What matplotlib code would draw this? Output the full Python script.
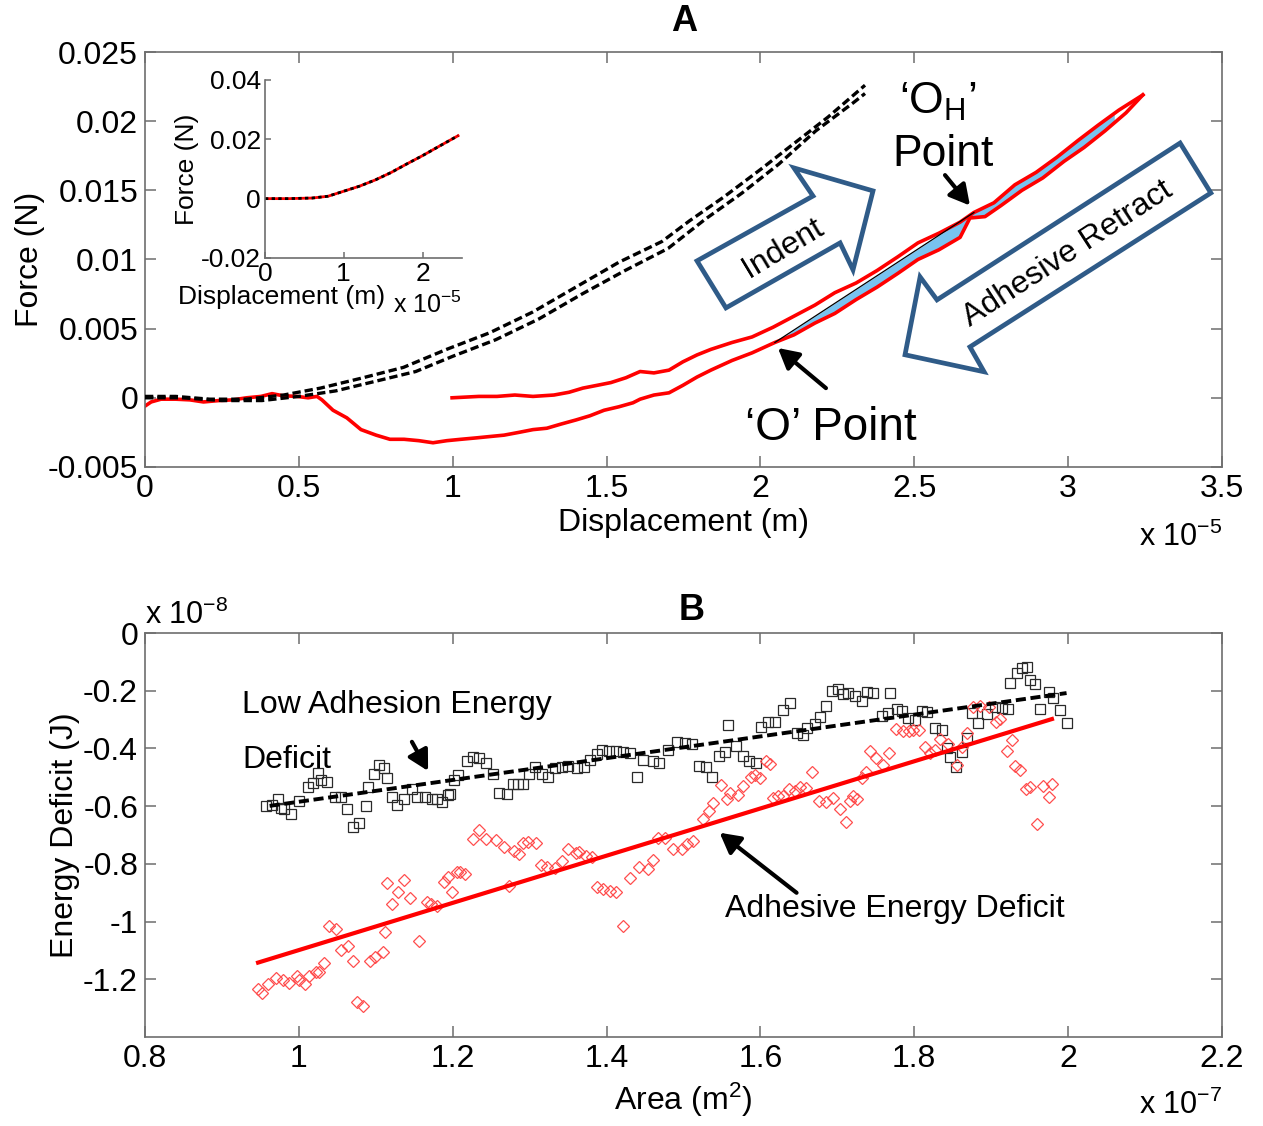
import matplotlib
matplotlib.use("Agg")
import matplotlib.pyplot as plt
import numpy as np
from matplotlib.patches import Polygon

plt.rcParams['font.family'] = ['Liberation Sans', 'DejaVu Sans']
plt.rcParams['mathtext.fontset'] = 'custom'
plt.rcParams['mathtext.rm'] = 'Liberation Sans'
plt.rcParams['mathtext.default'] = 'regular'

# ---- panel A data (displacement in 1e-5 m, force in N) ----
blk1_d = [0.00, 0.10, 0.21, 0.33, 0.45, 0.57, 0.70, 0.84, 0.98, 1.12, 1.26, 1.40,
          1.54, 1.68, 1.77, 1.88, 2.00, 2.11, 2.22, 2.34]
blk1_f = [0.0001, 0.0001, -0.0001, -0.0001, 0.0002, 0.0007, 0.0014, 0.0022, 0.0035,
          0.0047, 0.0062, 0.0080, 0.0098, 0.0113, 0.0128, 0.0145, 0.0165, 0.0184,
          0.0203, 0.0226]
blk2_d = [0.00, 0.12, 0.25, 0.38, 0.50, 0.62, 0.75, 0.88, 1.00, 1.14, 1.28, 1.42,
          1.56, 1.70, 1.82, 1.94, 2.06, 2.18, 2.30, 2.34]
blk2_f = [0.0000, 0.0000, -0.0002, -0.0002, 0.0001, 0.0005, 0.0012, 0.0019, 0.0030,
          0.0042, 0.0057, 0.0075, 0.0092, 0.0108, 0.0129, 0.0148, 0.0169, 0.0193,
          0.0213, 0.0220]

# red retract (lower branch)
rr_d = [0.000, 0.020, 0.052, 0.10, 0.146, 0.19, 0.24, 0.286, 0.33, 0.377, 0.413, 0.448,
        0.494, 0.53, 0.559, 0.575, 0.611, 0.656, 0.702, 0.751, 0.796, 0.842, 0.890,
        0.936, 0.981, 1.027, 1.076, 1.121, 1.167, 1.215, 1.261, 1.306, 1.352, 1.401,
        1.446, 1.492, 1.540, 1.586, 1.609, 1.654, 1.703, 1.748, 1.794, 1.839, 1.908,
        1.973, 2.047, 2.109, 2.177, 2.242, 2.311, 2.379, 2.447, 2.512, 2.580, 2.649,
        2.681, 2.73, 2.782, 2.850, 2.918, 2.987, 3.052, 3.120, 3.188, 3.243]
rr_f = [-0.0006, -0.0003, -0.0001, -0.0001, -0.00015, -0.0003, -0.0002, -0.00015, 0.0,
        0.0001, 0.0003, 0.00015, 0.0001, 0.0, 0.0001, -0.00015, -0.0009, -0.00145,
        -0.0023, -0.0027, -0.0030, -0.0030, -0.0031, -0.00325, -0.0031, -0.0030,
        -0.0029, -0.0028, -0.0027, -0.0025, -0.0023, -0.0022, -0.0019, -0.0016,
        -0.0013, -0.0009, -0.00065, -0.00036, -0.0001, 0.0002, 0.00036, 0.0009,
        0.0015, 0.0020, 0.0027, 0.00325, 0.0040, 0.00455, 0.0054, 0.0061, 0.0071,
        0.0080, 0.0090, 0.0100, 0.0107, 0.0116, 0.0130, 0.0131, 0.0139, 0.0150,
        0.0159, 0.0171, 0.0181, 0.0193, 0.0206, 0.0219]

# red indent (upper branch)
ri_d = [0.998, 1.085, 1.144, 1.202, 1.261, 1.329, 1.378, 1.423, 1.469, 1.514, 1.563,
        1.609, 1.654, 1.703, 1.748, 1.794, 1.839, 1.908, 1.973, 2.041, 2.109, 2.177,
        2.242, 2.311, 2.379, 2.447, 2.512, 2.580, 2.649, 2.694, 2.759, 2.827, 2.896,
        2.964, 3.032, 3.097, 3.165, 3.243]
ri_f = [0.0, 0.0001, 0.0001, 0.0002, 0.0001, 0.0002, 0.0004, 0.0007, 0.0009, 0.0011,
        0.00145, 0.0019, 0.0018, 0.0020, 0.0026, 0.0031, 0.0035, 0.0040, 0.0044,
        0.0051, 0.0059, 0.0067, 0.0076, 0.0083, 0.0092, 0.0102, 0.0112, 0.0119,
        0.0127, 0.0134, 0.0141, 0.0154, 0.0163, 0.0174, 0.0186, 0.0197, 0.0208, 0.0219]

o_pt = (2.047, 0.0040)
oh_pt = (2.694, 0.0134)
fill_end = 3.15

# inset
ins_d = [0.0, 0.3, 0.6, 0.8, 1.0, 1.2, 1.4, 1.6, 1.8, 2.0, 2.2, 2.45]
ins_f = [0.0, 0.0, 0.0002, 0.0008, 0.0025, 0.0042, 0.0063, 0.0088, 0.0117, 0.0145,
         0.0175, 0.0212]

# ---- panel B data (area in 1e-7 m^2, energy in 1e-8 J) ----
low_x = [0.957, 0.965, 0.973, 0.977, 0.981, 0.990, 1.000, 1.012, 1.018, 1.025, 1.029,
         1.037, 1.047, 1.055, 1.063, 1.070, 1.078, 1.087, 1.090, 1.098, 1.104, 1.111,
         1.114, 1.121, 1.127, 1.137, 1.147, 1.153, 1.164, 1.173, 1.179, 1.186, 1.194,
         1.207, 1.196, 1.202, 1.218, 1.226, 1.234, 1.243, 1.252, 1.260, 1.270, 1.278,
         1.285, 1.291, 1.299, 1.307, 1.316, 1.324, 1.333, 1.342, 1.350, 1.361, 1.371,
         1.378, 1.387, 1.394, 1.403, 1.412, 1.421, 1.430, 1.439, 1.447, 1.460, 1.468,
         1.480, 1.491, 1.502, 1.511, 1.520, 1.529, 1.537, 1.546, 1.554, 1.558, 1.568,
         1.577, 1.585, 1.594, 1.601, 1.610, 1.619, 1.630, 1.639, 1.647, 1.656, 1.660,
         1.671, 1.678, 1.685, 1.693, 1.701, 1.707, 1.714, 1.723, 1.732, 1.738, 1.747,
         1.758, 1.766, 1.769, 1.777, 1.784, 1.792, 1.801, 1.810, 1.816, 1.827, 1.836,
         1.842, 1.847, 1.854, 1.862, 1.868, 1.875, 1.883, 1.894, 1.905, 1.914, 1.922,
         1.925, 1.933, 1.940, 1.946, 1.950, 1.957, 1.964, 1.975, 1.980, 1.990, 1.998]
low_y = [-0.599, -0.595, -0.574, -0.606, -0.609, -0.626, -0.581, -0.533, -0.519, -0.484,
         -0.509, -0.516, -0.567, -0.567, -0.609, -0.671, -0.657, -0.599, -0.533, -0.488,
         -0.457, -0.467, -0.502, -0.567, -0.595, -0.574, -0.540, -0.567, -0.567, -0.574,
         -0.574, -0.585, -0.561, -0.491, -0.557, -0.509, -0.443, -0.429, -0.433, -0.450,
         -0.488, -0.554, -0.557, -0.522, -0.522, -0.522, -0.488, -0.464, -0.488, -0.498,
         -0.467, -0.464, -0.460, -0.467, -0.464, -0.439, -0.419, -0.405, -0.408, -0.408,
         -0.412, -0.415, -0.498, -0.439, -0.443, -0.450, -0.405, -0.377, -0.381, -0.384,
         -0.460, -0.464, -0.498, -0.426, -0.412, -0.318, -0.391, -0.426, -0.443, -0.450,
         -0.325, -0.308, -0.308, -0.266, -0.242, -0.346, -0.353, -0.329, -0.315, -0.291,
         -0.253, -0.201, -0.194, -0.211, -0.208, -0.218, -0.235, -0.204, -0.208, -0.287,
         -0.277, -0.208, -0.263, -0.270, -0.294, -0.301, -0.270, -0.273, -0.329, -0.336,
         -0.398, -0.429, -0.464, -0.412, -0.363, -0.277, -0.311, -0.280, -0.256, -0.260,
         -0.263, -0.173, -0.138, -0.121, -0.118, -0.163, -0.176, -0.263, -0.204, -0.225,
         -0.266, -0.311]

adh_x = [0.947, 0.952, 0.960, 0.970, 0.979, 0.987, 0.998, 1.000, 1.008, 1.013, 1.022,
         1.026, 1.033, 1.039, 1.048, 1.055, 1.064, 1.070, 1.076, 1.083, 1.092, 1.099,
         1.109, 1.112, 1.114, 1.121, 1.129, 1.137, 1.144, 1.156, 1.166, 1.172, 1.179,
         1.189, 1.194, 1.199, 1.205, 1.209, 1.216, 1.226, 1.234, 1.243, 1.256, 1.267,
         1.273, 1.280, 1.286, 1.291, 1.298, 1.308, 1.315, 1.322, 1.333, 1.342, 1.350,
         1.360, 1.364, 1.373, 1.381, 1.387, 1.395, 1.404, 1.412, 1.421, 1.430, 1.442,
         1.454, 1.460, 1.467, 1.476, 1.487, 1.498, 1.504, 1.513, 1.525, 1.533, 1.539,
         1.549, 1.556, 1.560, 1.571, 1.577, 1.588, 1.593, 1.599, 1.607, 1.612, 1.616,
         1.623, 1.630, 1.637, 1.645, 1.651, 1.659, 1.667, 1.676, 1.685, 1.695, 1.704,
         1.711, 1.716, 1.721, 1.725, 1.732, 1.737, 1.742, 1.750, 1.759, 1.767, 1.776,
         1.785, 1.793, 1.799, 1.806, 1.814, 1.821, 1.827, 1.834, 1.844, 1.855, 1.862,
         1.868, 1.876, 1.886, 1.897, 1.906, 1.911, 1.920, 1.927, 1.931, 1.937, 1.945,
         1.951, 1.959, 1.967, 1.975, 1.979]
adh_y = [-1.232, -1.249, -1.215, -1.194, -1.204, -1.211, -1.190, -1.201, -1.215, -1.187,
         -1.176, -1.173, -1.145, -1.014, -1.024, -1.100, -1.083, -1.135, -1.280, -1.294,
         -1.138, -1.121, -1.107, -1.035, -0.865, -0.938, -0.896, -0.855, -0.917, -1.066,
         -0.931, -0.938, -0.945, -0.862, -0.844, -0.896, -0.827, -0.827, -0.834, -0.713,
         -0.682, -0.713, -0.716, -0.740, -0.875, -0.754, -0.765, -0.727, -0.723, -0.727,
         -0.803, -0.810, -0.813, -0.789, -0.747, -0.761, -0.758, -0.772, -0.775, -0.879,
         -0.886, -0.893, -0.896, -1.014, -0.848, -0.810, -0.817, -0.785, -0.709, -0.709,
         -0.747, -0.747, -0.730, -0.720, -0.644, -0.616, -0.588, -0.526, -0.574, -0.554,
         -0.561, -0.529, -0.498, -0.491, -0.502, -0.443, -0.453, -0.571, -0.564, -0.564,
         -0.540, -0.547, -0.533, -0.536, -0.481, -0.581, -0.585, -0.571, -0.609, -0.654,
         -0.581, -0.564, -0.574, -0.502, -0.481, -0.408, -0.433, -0.457, -0.415, -0.332,
         -0.339, -0.339, -0.336, -0.336, -0.394, -0.415, -0.405, -0.367, -0.384, -0.457,
         -0.394, -0.346, -0.256, -0.253, -0.256, -0.308, -0.298, -0.408, -0.370, -0.460,
         -0.474, -0.540, -0.533, -0.661, -0.529, -0.567, -0.522]

low_fit_x = [0.962, 1.998]
low_fit_y = [-0.599, -0.208]
adh_fit_x = [0.947, 1.979]
adh_fit_y = [-1.142, -0.298]

# ---- figure ----
fig = plt.figure(figsize=(12.63, 11.26), dpi=100)
spine_col = '#6e6e6e'
arrow_blue = '#2f5b88'
FS = 23


def style_axes(ax, fs):
    for s in ax.spines.values():
        s.set_color(spine_col)
        s.set_linewidth(1.2)
    ax.tick_params(direction='in', top=True, right=True, length=8, width=1.1,
                   color=spine_col, labelsize=fs, pad=5)


# ================= panel A =================
ax = fig.add_axes([0.1148, 0.5853, 0.8527, 0.3685])
style_axes(ax, FS)
ax.set_xlim(0, 3.5)
ax.set_ylim(-0.005, 0.025)
ax.set_xticks(np.arange(0, 3.51, 0.5))
ax.set_xticklabels(['0', '0.5', '1', '1.5', '2', '2.5', '3', '3.5'])
ax.set_yticks([-0.005, 0, 0.005, 0.01, 0.015, 0.02, 0.025])
ax.set_yticklabels(['-0.005', '0', '0.005', '0.01', '0.015', '0.02', '0.025'])
ax.set_xlabel('Displacement (m)', fontsize=FS, labelpad=3)
ax.set_ylabel('Force (N)', fontsize=FS, labelpad=2)

# blue shaded hysteresis region
grid = np.linspace(o_pt[0], fill_end, 300)
chord = np.interp(grid, [o_pt[0], oh_pt[0]], [o_pt[1], oh_pt[1]])
up = np.where(grid <= oh_pt[0], chord, np.interp(grid, ri_d, ri_f))
lo = np.interp(grid, rr_d, rr_f)
ax.fill_between(grid, lo, up, where=up > lo, color='#78c3f0', lw=0, zorder=1)

ax.plot(blk1_d, blk1_f, color='k', lw=2.4, ls=(0, (2.5, 1.2)), zorder=3)
ax.plot(blk2_d, blk2_f, color='k', lw=2.4, ls=(0, (2.5, 1.2)), zorder=3)
ax.plot(rr_d, rr_f, color='#ff0000', lw=2.6, zorder=2)
ax.plot(ri_d, ri_f, color='#ff0000', lw=2.6, zorder=2)
ax.plot([o_pt[0], oh_pt[0]], [o_pt[1], oh_pt[1]], color='k', lw=0.9, zorder=2)

# block arrows
indent_poly = [(1.794, 0.00990), (1.888, 0.00650), (2.259, 0.01120), (2.301, 0.00925),
               (2.366, 0.01496), (2.109, 0.01662), (2.171, 0.01459)]
retract_poly = [(3.364, 0.01842), (3.464, 0.01481), (2.681, 0.00368), (2.727, 0.00188),
                (2.470, 0.00311), (2.519, 0.00874), (2.574, 0.00708)]
for pts in (indent_poly, retract_poly):
    ax.add_patch(Polygon(pts, closed=True, facecolor='white', edgecolor=arrow_blue,
                         lw=3.4, joinstyle='miter', zorder=4))
ax.text(2.075, 0.0108, 'Indent', fontsize=FS, rotation=31, ha='center', va='center',
        rotation_mode='anchor', zorder=5)
ax.text(3.0, 0.0104, 'Adhesive Retract', fontsize=FS, rotation=33, ha='center',
        va='center', rotation_mode='anchor', zorder=5)

ax.text(2.577, 0.0214, '\u2018O$_H$\u2019', fontsize=32, ha='center', va='center')
ax.text(2.593, 0.0176, 'Point', fontsize=32, ha='center', va='center')
ax.text(2.229, -0.0022, '\u2018O\u2019 Point', fontsize=33, ha='center', va='center')
arw = dict(arrowstyle='-|>,head_length=0.55,head_width=0.3', lw=3, color='k',
           mutation_scale=22, shrinkA=0, shrinkB=0)
ax.annotate('', xy=(2.681, 0.0139), xytext=(2.60, 0.0161), arrowprops=arw)
ax.annotate('', xy=(2.057, 0.0036), xytext=(2.213, 0.0007), arrowprops=arw)

fig.text(0.5416, 0.9805, 'A', fontsize=26, fontweight='bold', ha='center', va='center')
fig.text(0.9675, 0.523, 'x 10$^{-5}$', fontsize=22, ha='right', va='center')

# inset
axi = fig.add_axes([0.2098, 0.7709, 0.156, 0.1581])
style_axes(axi, 19)
axi.tick_params(top=False, right=False, length=4, pad=3)
axi.spines['top'].set_visible(False)
axi.spines['right'].set_visible(False)
axi.set_xlim(0, 2.5)
axi.set_ylim(-0.02, 0.04)
axi.set_xticks([0, 1, 2])
axi.set_xticklabels(['0', '1', '2'])
axi.set_yticks([-0.02, 0, 0.02, 0.04])
axi.set_yticklabels(['-0.02', '0', '0.02', '0.04'])
axi.set_ylabel('Force (N)', fontsize=19, labelpad=1)
axi.plot(ins_d, ins_f, color='#ff0000', lw=2.0)
axi.plot(ins_d, ins_f, color='k', lw=2.0, ls=(0, (1.2, 1.2)))
fig.text(0.2233, 0.7363, 'Displacement (m)', fontsize=19, ha='center', va='center')
fig.text(0.3658, 0.729, 'x 10$^{-5}$', fontsize=18, ha='right', va='center')

# ================= panel B =================
bx = fig.add_axes([0.1148, 0.0790, 0.8527, 0.3588])
style_axes(bx, FS)
bx.set_xlim(0.8, 2.2)
bx.set_ylim(-1.4, 0)
bx.set_xticks(np.arange(0.8, 2.21, 0.2))
bx.set_xticklabels(['0.8', '1', '1.2', '1.4', '1.6', '1.8', '2', '2.2'])
bx.set_yticks([-1.2, -1.0, -0.8, -0.6, -0.4, -0.2, 0])
bx.set_yticklabels(['-1.2', '-1', '-0.8', '-0.6', '-0.4', '-0.2', '0'])
bx.set_xlabel('Area (m$^2$)', fontsize=FS, labelpad=5)
bx.set_ylabel('Energy Deficit (J)', fontsize=FS, labelpad=2)

bx.plot(low_x, low_y, ls='none', marker='s', ms=6.5, mfc='none', mec='#2a2a2a', mew=0.9)
bx.plot(adh_x, adh_y, ls='none', marker='D', ms=6.2, mfc='none', mec='#ff4d4d', mew=0.9)
bx.plot(low_fit_x, low_fit_y, color='k', lw=2.8, ls=(0, (2.6, 1.2)))
bx.plot(adh_fit_x, adh_fit_y, color='#ff0000', lw=3.0)

bx.text(0.926, -0.249, 'Low Adhesion Energy', fontsize=FS, ha='left', va='center')
bx.text(0.926, -0.439, 'Deficit', fontsize=FS, ha='left', va='center')
bx.text(1.554, -0.958, 'Adhesive Energy Deficit', fontsize=FS, ha='left', va='center')
bx.annotate('', xy=(1.168, -0.478), xytext=(1.147, -0.377), arrowprops=arw)
bx.annotate('', xy=(1.547, -0.692), xytext=(1.647, -0.900), arrowprops=arw)

fig.text(0.548, 0.458, 'B', fontsize=26, fontweight='bold', ha='center', va='center')
fig.text(0.1148, 0.4538, 'x 10$^{-8}$', fontsize=22, ha='left', va='center')
fig.text(0.9675, 0.0187, 'x 10$^{-7}$', fontsize=22, ha='right', va='center')

fig.savefig('out.png', dpi=100)
